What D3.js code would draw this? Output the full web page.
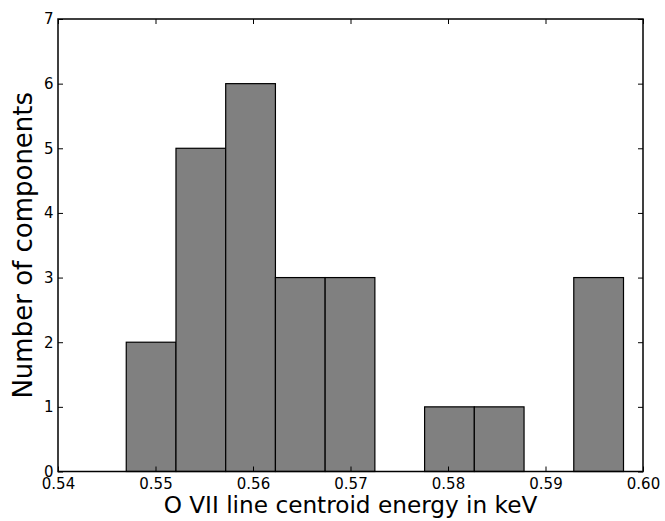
<!DOCTYPE html>
<html><head><meta charset="utf-8">
<script src="https://cdn.jsdelivr.net/npm/d3@7"></script>
<style>body{margin:0;background:#fff}svg{display:block}text{font-family:"DejaVu Sans",sans-serif}</style>
</head><body>
<script>
const binEdges = [0.547, 0.5521, 0.5572, 0.5623, 0.5674, 0.5725, 0.5776, 0.5827, 0.5878, 0.5929, 0.598];
const counts = [2, 5, 6, 3, 3, 0, 1, 1, 0, 3];
const xTicks = [0.54, 0.55, 0.56, 0.57, 0.58, 0.59, 0.60];
const yTicks = [0, 1, 2, 3, 4, 5, 6, 7];

const W = 665, H = 521;
const m = {l: 58, r: 22, t: 19, b: 49.5};
const svg = d3.select("body").append("svg").attr("width", W).attr("height", H);
const x = d3.scaleLinear().domain([0.54, 0.60]).range([m.l, W - m.r]);
const y = d3.scaleLinear().domain([0, 7]).range([H - m.b, m.t]);

const bins = counts.map((c, i) => ({x0: binEdges[i], x1: binEdges[i + 1], c}));
svg.append("g").selectAll("rect").data(bins.filter(d => d.c > 0)).join("rect")
  .attr("x", d => x(d.x0)).attr("width", d => x(d.x1) - x(d.x0))
  .attr("y", d => y(d.c)).attr("height", d => y(0) - y(d.c))
  .attr("fill", "#808080").attr("stroke", "#000").attr("stroke-width", 1.2);

const fmtX = d3.format(".2f");
const gb = svg.append("g").attr("transform", `translate(0,${y(0)})`)
  .call(d3.axisBottom(x).tickValues(xTicks).tickFormat(fmtX).tickSizeInner(-5).tickSizeOuter(0));
const gt = svg.append("g").attr("transform", `translate(0,${y(7)})`)
  .call(d3.axisTop(x).tickValues(xTicks).tickFormat("").tickSizeInner(-5).tickSizeOuter(0));
const gl = svg.append("g").attr("transform", `translate(${x(0.54)},0)`)
  .call(d3.axisLeft(y).tickValues(yTicks).tickFormat(d3.format("d")).tickSizeInner(-5).tickSizeOuter(0).tickPadding(4.5));
const gr = svg.append("g").attr("transform", `translate(${x(0.60)},0)`)
  .call(d3.axisRight(y).tickValues(yTicks).tickFormat("").tickSizeInner(-5).tickSizeOuter(0));

[gb, gt, gl, gr].forEach(g => {
  g.select(".domain").remove();
  g.selectAll(".tick line").attr("stroke", "#000").attr("stroke-width", 1);
  g.selectAll("text").attr("font-size", 15).attr("fill", "#000").attr("font-family", "DejaVu Sans");
});
gb.selectAll("text").attr("dy", null).attr("y", 17);

svg.append("rect").attr("x", x(0.54)).attr("y", y(7))
  .attr("width", x(0.60) - x(0.54)).attr("height", y(0) - y(7))
  .attr("fill", "none").attr("stroke", "#000").attr("stroke-width", 1.5);

svg.append("text").attr("x", (x(0.54) + x(0.60)) / 2).attr("y", 512.5)
  .attr("text-anchor", "middle").attr("font-size", 23.2).text("O VII line centroid energy in keV");
svg.append("text").attr("transform", `translate(32,${(y(0) + y(7)) / 2}) rotate(-90)`)
  .attr("text-anchor", "middle").attr("font-size", 26).text("Number of components");
</script>
</body></html>
